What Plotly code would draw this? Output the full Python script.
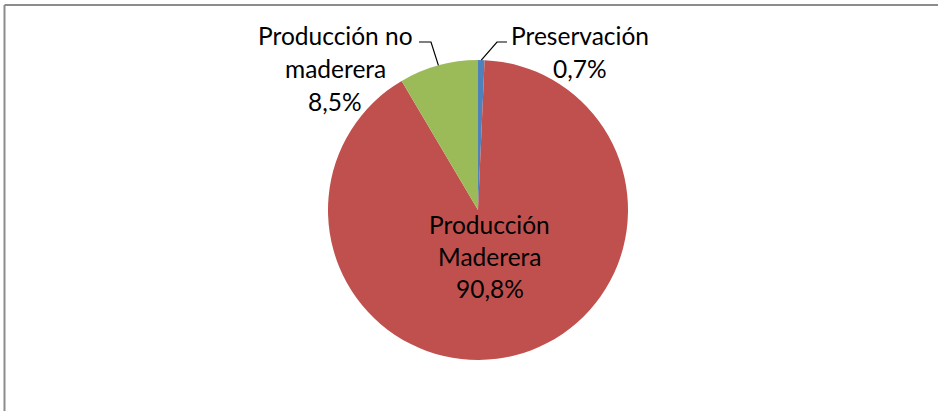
import math
import plotly.graph_objects as go

# Data
categories = ["Preservación", "Producción Maderera", "Producción no maderera"]
values = [0.7, 90.8, 8.5]
label_lines = [["Preservación", "0,7%"], ["Producción", "Maderera", "90,8%"], ["Producción no", "maderera", "8,5%"]]
colors = ["#4F81BD", "#C0504D", "#9BBB59"]

W, H = 938, 411
cx, cy, R = 478, 210, 150  # pie center / radius in pixels

def px(x):
    return x / W

def py(y):
    return 1 - y / H

fig = go.Figure(go.Pie(
    labels=categories,
    values=values,
    sort=False,
    direction="clockwise",
    rotation=0,
    textinfo="none",
    hoverinfo="label+percent",
    marker=dict(colors=colors, line=dict(width=0)),
    domain=dict(x=[px(cx - R), px(cx + R)], y=[py(cy + R), py(cy - R)]),
    showlegend=False,
))

# edge points of slices computed from data
total = sum(values)
cum = 0
edges = []
for v in values:
    mid = (cum + v / 2) / total * 2 * math.pi
    edges.append((cx + R * math.sin(mid), cy - R * math.cos(mid)))
    cum += v

font = dict(family="Lato, Carlito, sans-serif", size=24.5, color="#000000")
# (center x, first line y, line spacing)
label_pos = [(580, 35, 33.5), (490, 224, 32), (335, 35, 33)]
annotations = []
for (x, y0, dy), lines in zip(label_pos, label_lines):
    for i, t in enumerate(lines):
        annotations.append(dict(x=px(x), y=py(y0 + i * dy), xref="paper", yref="paper", text=t,
                                showarrow=False, font=font, align="center",
                                xanchor="center", yanchor="middle"))

shapes = []
# leader lines
ex, ey = edges[0]
shapes.append(dict(type="path", xref="paper", yref="paper",
                   path=f"M {px(507)},{py(42)} L {px(497)},{py(42)} L {px(ex)},{py(ey)}",
                   line=dict(color="#000000", width=1.2)))
ex, ey = edges[2]
shapes.append(dict(type="path", xref="paper", yref="paper",
                   path=f"M {px(419)},{py(42)} L {px(431)},{py(42)} L {px(ex)},{py(ey)}",
                   line=dict(color="#000000", width=1.2)))
# chart border (top and left visible)
shapes.append(dict(type="line", xref="paper", yref="paper", x0=px(4.5), y0=py(5), x1=1.01, y1=py(5),
                   line=dict(color="#8c8c8c", width=2)))
shapes.append(dict(type="line", xref="paper", yref="paper", x0=px(4.5), y0=py(5), x1=px(4.5), y1=-0.01,
                   line=dict(color="#8c8c8c", width=2)))

fig.update_layout(
    width=W, height=H,
    margin=dict(l=0, r=0, t=0, b=0),
    paper_bgcolor="white", plot_bgcolor="white",
    annotations=annotations,
    shapes=shapes,
)

fig.write_html("out.html", config={"displayModeBar": False},
               post_script="document.body.style.margin='0';document.body.style.overflow='hidden';")
